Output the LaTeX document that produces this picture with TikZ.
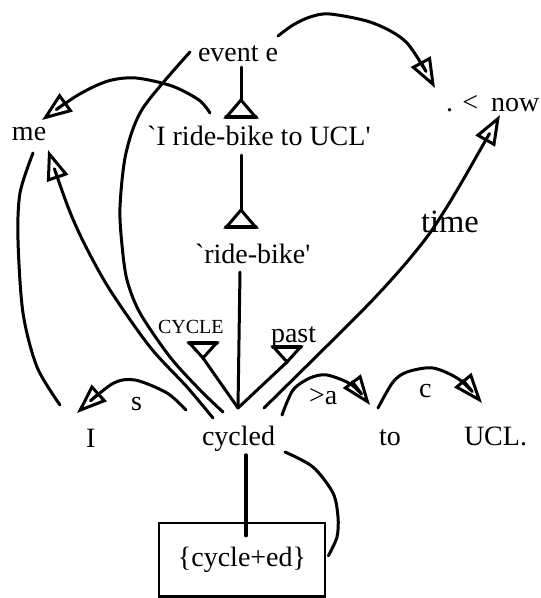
\documentclass[tikz,border=0pt]{standalone}
\usepackage{fontspec}
\setmainfont{Liberation Serif}[Ligatures=TeXOff]
\usetikzlibrary{arrows.meta}
\tikzset{
  lbl/.style={anchor=base west, inner sep=0pt, outer sep=0pt, font=\fontsize{28}{32}\selectfont},
  link/.style={line width=3pt, line cap=round, line join=round},
  arr/.style={link, -{Triangle[open, length=30pt, width=22pt]}},
  isaup/.pic={
    \draw[line width=3pt, line join=miter] (0,0) -- (-14.5,17) -- (14.5,17) -- cycle;
    \draw[line width=4.5pt] (-14.5,17) -- (14.5,17);
  },
  isadown/.pic={
    \draw[line width=3pt, line join=miter] (0,0) -- (-13.5,-15) -- (13.5,-15) -- cycle;
    \draw[line width=4.5pt] (-13.5,-15) -- (13.5,-15);
  }
}
\begin{document}
\begin{tikzpicture}[x=1pt, y=-1pt]
\useasboundingbox (0,0) rectangle (541,598);

% words and concepts
\node[lbl] (ev) at (198,61) {event e};
\node[lbl] (lt) at (446,111) {. <};
\node[lbl] (now) at (491,111) {now};
\node[lbl] (iride) at (147,145) {`I ride-bike to UCL'};
\node[lbl] (ride) at (195,263) {`ride-bike'};
\node[lbl, font=\fontsize{32.5}{36}\selectfont] (time) at (421,232) {time};
\node[lbl] (me) at (12,140) {me};
\node[lbl, font=\fontsize{20}{24}\selectfont] (cyc) at (158,333) {CYCLE};
\node[lbl] (past) at (271,342) {past};
\node[lbl] (I) at (86,447) {I};
\node[lbl] (s) at (131,410) {s};
\node[lbl] (cycled) at (202,445) {cycled};
\node[lbl] (a) at (309,404) {>a};
\node[lbl] (to) at (379,445) {to};
\node[lbl] (c) at (419,397) {c};
\node[lbl] (ucl) at (464,445) {UCL.};
\node[draw, line width=2.8pt, minimum width=166pt, minimum height=73.5pt, inner sep=0pt,
      font=\fontsize{28}{32}\selectfont] (box) at (242,559.75) {\{cycle+ed\}};

% event e -> . <
\draw[arr] plot[smooth] coordinates {([shift={(80,-25)}]ev.base west) (293,25) (310,17) (330,14) (373,23) (407,43) ([shift={(-11,-23)}]lt.base west)};

% isa links down the sense chain
\draw[link] ([shift={(43,6)}]ev.base west) -- ([shift={(94,-45)}]iride.base west) pic{isaup};
\draw[link] ([shift={(94,10)}]iride.base west) -- ([shift={(46,-53)}]ride.base west) pic{isaup};
\draw[link] ([shift={(45,9)}]ride.base west) -- ([shift={(36,-37)}]cycled.base west);
\draw[link] ([shift={(36,-37)}]cycled.base west) -- ([shift={(45,25)}]cyc.base west) pic{isadown};
\draw[link] ([shift={(36,-37)}]cycled.base west) -- ([shift={(16,20)}]past.base west) pic{isadown};

% referent links to "me"
\draw[arr] plot[smooth] coordinates {([shift={(63,-32)}]iride.base west) (199,100) (172,86) (136,78) (108,81) (78,95) ([shift={(30,-20)}]me.base west)};
\draw[arr] plot[smooth] coordinates {([shift={(11,-27)}]cycled.base west) (187,387) (150,347) (110,290) (85,245) (68,207) ([shift={(36,10)}]me.base west)};
\draw[link] plot[smooth] coordinates {([shift={(-26,-42)}]I.base west) (37,367) (23,313) (18,240) (20,193) ([shift={(21,13)}]me.base west)};

% event e -- cycled
\draw[link] plot[smooth] coordinates {([shift={(-8,-9)}]ev.base west) (143,108) (126,153) (120,207) (122,245) (127,280) (140,313) (170,357) (200,390) ([shift={(21,-33)}]cycled.base west)};

% time -> now
\draw[arr] plot[smooth] coordinates {([shift={(62,-37)}]cycled.base west) (360,313) (400,270) (427,237) (445,210) (463,180) ([shift={(9,4)}]now.base west)};

% dependencies between the words
\draw[arr] plot[smooth] coordinates {([shift={(-16,-35)}]cycled.base west) (167,393) (135,380) (112,384) ([shift={(-9,-34)}]I.base west)};
\draw[arr] plot[smooth] coordinates {([shift={(80,-30)}]cycled.base west) (293,390) (310,378) (327,375) (352,385) ([shift={(-9,-40)}]to.base west)};
\draw[arr] plot[smooth] coordinates {([shift={(-1,-37)}]to.base west) (393,382) (407,372) (433,368) (460,380) ([shift={(18,-42)}]ucl.base west)};

% form of "cycled"
\draw[link, line width=3.5pt] ([shift={(44,10)}]cycled.base west) -- ([shift={(4,14)}]box.north);
\draw[link] plot[smooth] coordinates {([shift={(83,7)}]cycled.base west) (313,467) (333,493) (338,517) (337,537) ([shift={(2,-4)}]box.east)};
\end{tikzpicture}
\end{document}
